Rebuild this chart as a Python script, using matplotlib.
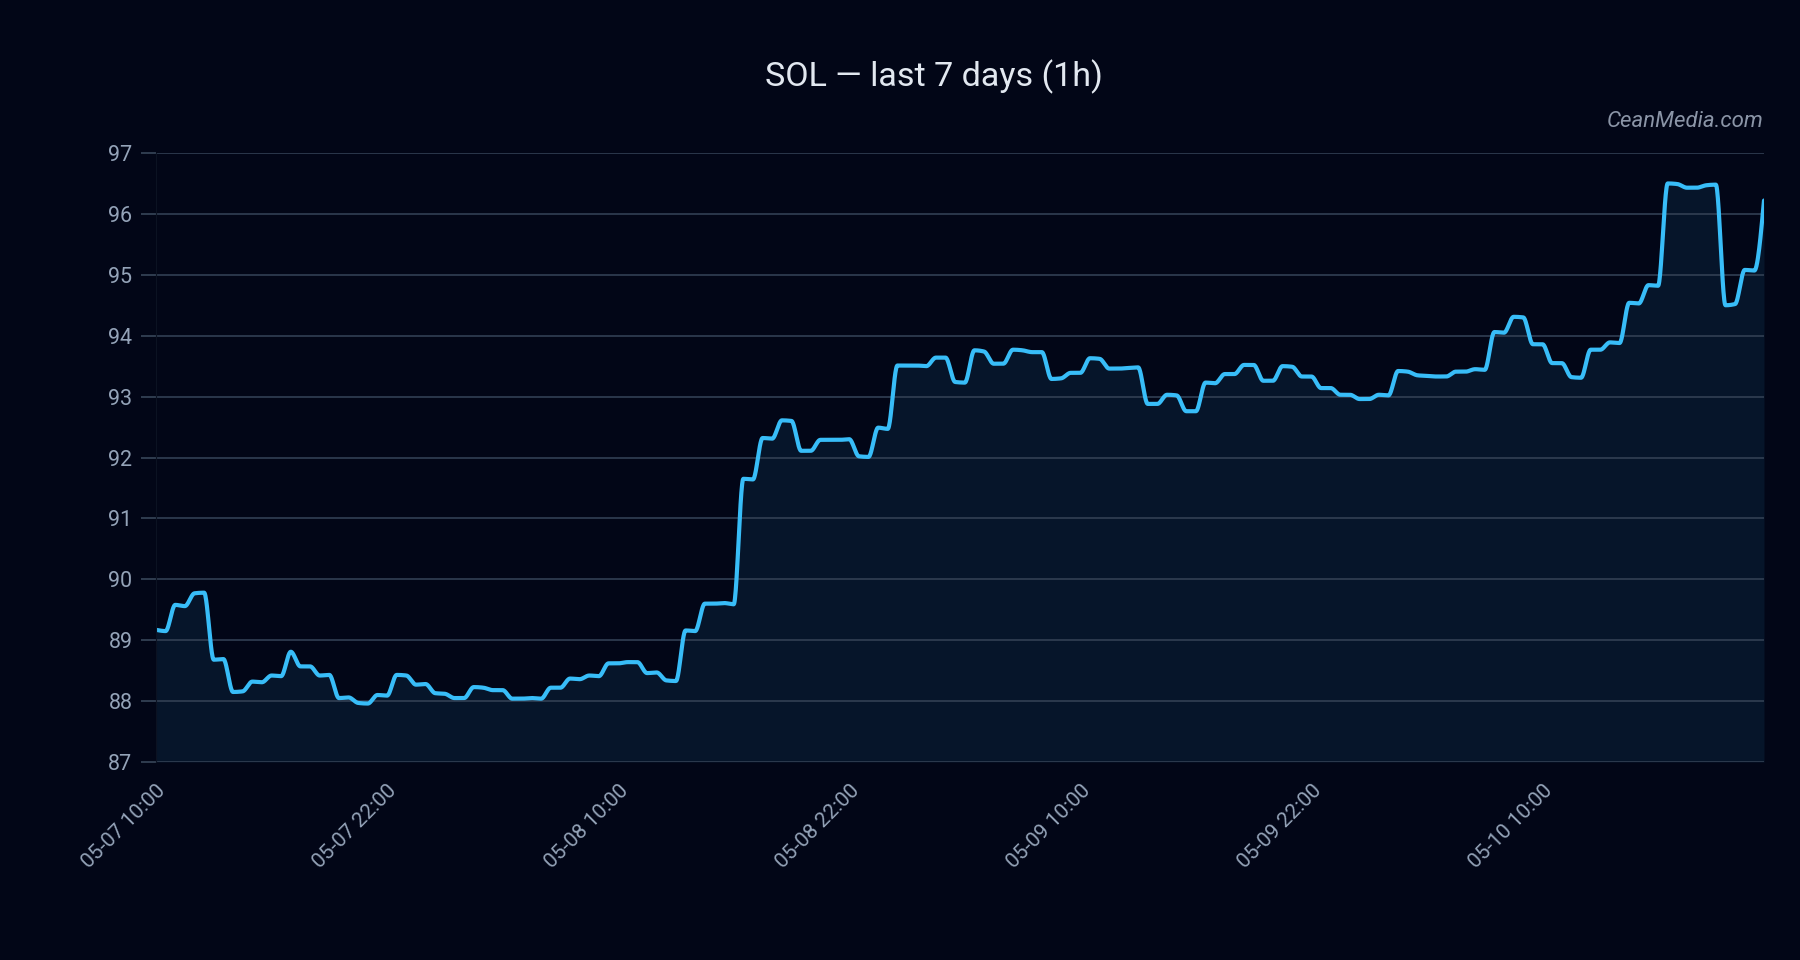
import numpy as np
import pandas as pd
import matplotlib
matplotlib.use("Agg")
import matplotlib.pyplot as plt

# SOL price, one point every 30 min starting 05-07 10:00
start = "2024-05-07 10:00"
step = "30min"
prices = [
    89.17, 89.15, 89.58, 89.56, 89.77, 89.78, 88.68, 88.69, 88.15, 88.16,
    88.32, 88.31, 88.42, 88.41, 88.81, 88.57, 88.57, 88.42, 88.43, 88.05,
    88.06, 87.97, 87.96, 88.10, 88.09, 88.43, 88.42, 88.27, 88.28, 88.13,
    88.12, 88.05, 88.05, 88.23, 88.22, 88.18, 88.18, 88.04, 88.04, 88.05,
    88.04, 88.22, 88.22, 88.37, 88.36, 88.42, 88.41, 88.62, 88.62, 88.64,
    88.64, 88.46, 88.47, 88.34, 88.33, 89.16, 89.15, 89.60, 89.60, 89.61,
    89.59, 91.65, 91.64, 92.32, 92.31, 92.61, 92.60, 92.11, 92.11, 92.29,
    92.29, 92.29, 92.30, 92.02, 92.01, 92.49, 92.47, 93.51, 93.51, 93.51,
    93.50, 93.64, 93.64, 93.24, 93.23, 93.76, 93.74, 93.54, 93.54, 93.77,
    93.76, 93.73, 93.73, 93.29, 93.30, 93.39, 93.39, 93.63, 93.62, 93.46,
    93.46, 93.47, 93.48, 92.88, 92.88, 93.03, 93.02, 92.76, 92.76, 93.23,
    93.22, 93.37, 93.37, 93.52, 93.52, 93.26, 93.26, 93.50, 93.49, 93.33,
    93.33, 93.14, 93.14, 93.03, 93.03, 92.96, 92.96, 93.03, 93.02, 93.42,
    93.41, 93.35, 93.34, 93.33, 93.33, 93.41, 93.41, 93.45, 93.44, 94.06,
    94.05, 94.31, 94.30, 93.86, 93.86, 93.55, 93.55, 93.32, 93.31, 93.77,
    93.77, 93.89, 93.88, 94.54, 94.53, 94.83, 94.82, 96.50, 96.49, 96.43,
    96.43, 96.47, 96.48, 94.50, 94.52, 95.08, 95.07, 96.22,
]
tick_times = ["2024-05-07 10:00", "2024-05-07 22:00", "2024-05-08 10:00",
              "2024-05-08 22:00", "2024-05-09 10:00", "2024-05-09 22:00",
              "2024-05-10 10:00"]
tick_labels = ["05-07 10:00", "05-07 22:00", "05-08 10:00", "05-08 22:00",
               "05-09 10:00", "05-09 22:00", "05-10 10:00"]
y_ticks = [87, 88, 89, 90, 91, 92, 93, 94, 95, 96, 97]

BG = "#020617"
LINE = "#38bdf8"
GRID = "#334155"
MUTED = "#94a3b8"


def monotone_curve(x, y, n=24):
    # monotone cubic (same idea as d3 curveMonotoneX) so the line stays smooth
    x = np.asarray(x, float)
    y = np.asarray(y, float)
    h = np.diff(x)
    s = np.diff(y) / h
    t = np.zeros_like(y)
    for i in range(1, len(y) - 1):
        p = (s[i - 1] * h[i] + s[i] * h[i - 1]) / (h[i - 1] + h[i])
        t[i] = (np.sign(s[i - 1]) + np.sign(s[i])) * min(abs(s[i - 1]), abs(s[i]), 0.5 * abs(p))
    t[0] = (3 * s[0] - t[1]) / 2
    t[-1] = (3 * s[-1] - t[-2]) / 2
    xs, ys = [], []
    for i in range(len(y) - 1):
        u = np.linspace(0, 1, n, endpoint=False)
        h00 = 2 * u**3 - 3 * u**2 + 1
        h10 = u**3 - 2 * u**2 + u
        h01 = -2 * u**3 + 3 * u**2
        h11 = u**3 - u**2
        xs.append(x[i] + u * h[i])
        ys.append(h00 * y[i] + h10 * h[i] * t[i] + h01 * y[i + 1] + h11 * h[i] * t[i + 1])
    xs.append([x[-1]])
    ys.append([y[-1]])
    return np.concatenate(xs), np.concatenate(ys)


plt.rcParams['font.family'] = ['Roboto', 'DejaVu Sans']

times = pd.date_range(start, periods=len(prices), freq=step)
xnum = matplotlib.dates.date2num(times.to_pydatetime())
cx, cy = monotone_curve(xnum, prices)

fig = plt.figure(figsize=(18, 9.6), dpi=100, facecolor=BG)
ax = fig.add_axes([156 / 1800, 1 - 762 / 960, 1608 / 1800, 609 / 960])
ax.set_facecolor(BG)

ax.fill_between(cx, cy, 87, color=LINE, alpha=0.085, linewidth=0)
ax.plot(cx, cy, color=LINE, linewidth=3.0, solid_capstyle='round')

ax.set_xlim(xnum[0], xnum[-1])
ax.set_ylim(87, 97)
ax.set_yticks(y_ticks)
ax.set_yticklabels([str(v) for v in y_ticks])
ax.set_xticks(matplotlib.dates.date2num(pd.to_datetime(tick_times).to_pydatetime()))
ax.set_xticklabels(tick_labels, rotation=45, ha='right', rotation_mode='anchor')

ax.grid(axis='y', color=GRID, linewidth=1.3, alpha=0.9)
ax.grid(axis='x', visible=False)
for side in ['top', 'right', 'bottom']:
    ax.spines[side].set_visible(False)
ax.spines['left'].set_color('#0b1222')
ax.tick_params(axis='y', colors=GRID, labelcolor=MUTED, labelsize=15.5, length=11, width=1.3, pad=6)
ax.tick_params(axis='x', colors=GRID, labelcolor=MUTED, labelsize=15, length=0, pad=14)

fig.text(934 / 1800, 1 - 86 / 960, "SOL — last 7 days (1h)", color="#e2e8f0",
         fontsize=24.5, ha='center', va='baseline')
fig.text(1764 / 1800, 1 - 127 / 960, "CeanMedia.com", color="#8b95a7",
         fontsize=16, style='italic', ha='right', va='baseline')

fig.savefig("out.png", dpi=100, facecolor=BG)
